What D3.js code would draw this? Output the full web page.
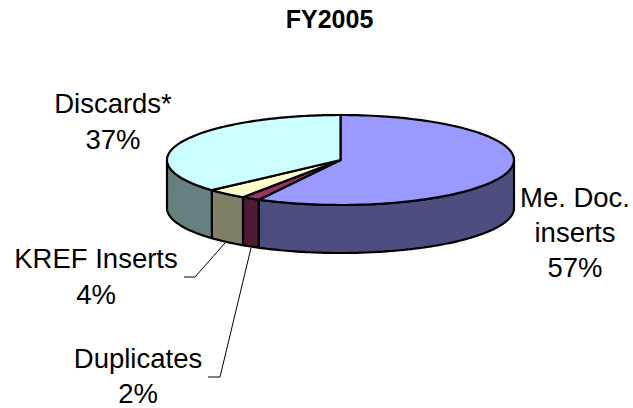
<!DOCTYPE html>
<html><head><meta charset="utf-8">
<script src="https://cdn.jsdelivr.net/npm/d3@7"></script>
<style>html,body{margin:0;padding:0;background:#fff}svg{display:block}text{font-family:"Liberation Sans",Arial,sans-serif;fill:#000}</style>
</head><body><svg id="c" width="633" height="408"></svg>
<script>
const title = "FY2005";
const categories = ["Me. Doc. inserts", "Duplicates", "KREF Inserts", "Discards*"];
const values = [57.8, 1.7, 3.8, 36.7];
const percentLabels = ["57%", "2%", "4%", "37%"];
const topColors = ["#9999FF", "#993366", "#FFFFCC", "#CCFFFF"];
const sideColors = ["#4D4D80", "#4D1A33", "#808066", "#668080"];
const labelLines = [["Me. Doc.", "inserts", "57%"], ["Duplicates", "2%"], ["KREF Inserts", "4%"], ["Discards*", "37%"]];
const labelAnchors = [[575, 207], [138, 368], [96, 268], [113, 113]];
const leaders = [null, [[251, 248], [220, 377], [208, 377]], [[225, 243], [195, 277], [184, 277]], null];

const cx = 340.5, cy = 160, rx = 173.5, ry = 45, depth = 48;
const svg = d3.select("#c");
const sx = d3.scaleLinear().domain([-1, 1]).range([cx - rx, cx + rx]);
const sy = d3.scaleLinear().domain([-1, 1]).range([cy - ry, cy + ry]);
const pt = (a, dz = 0) => [sx(Math.sin(a)), sy(-Math.cos(a)) + dz];
const arcs = d3.pie().sort(null)(values);
const arcPts = (a0, a1, dz) => d3.range(0, 121).map(i => pt(a0 + (a1 - a0) * i / 120, dz));
const line = d3.line();

svg.append("text").attr("x", 329.5).attr("y", 28).attr("text-anchor", "middle")
  .attr("font-size", 25).attr("font-weight", "bold").text(title);

// Side walls: only the part of each slice facing the viewer
const front0 = Math.PI / 2, front1 = Math.PI * 1.5;
svg.append("g").selectAll("path")
  .data(arcs.filter(d => d.endAngle > front0 && d.startAngle < front1))
  .join("path")
  .attr("d", d => {
    const a0 = Math.max(d.startAngle, front0), a1 = Math.min(d.endAngle, front1);
    return line([...arcPts(a0, a1, 0), ...arcPts(a1, a0, depth)]) + "Z";
  })
  .attr("fill", d => sideColors[d.index])
  .attr("stroke", "#000").attr("stroke-width", 2.2).attr("stroke-linejoin", "round");

// Top faces
svg.append("g").selectAll("path").data(arcs).join("path")
  .attr("d", d => line([[cx, cy], ...arcPts(d.startAngle, d.endAngle, 0)]) + "Z")
  .attr("fill", d => topColors[d.index])
  .attr("stroke", "#000").attr("stroke-width", 2.2).attr("stroke-linejoin", "round");

// Leader lines
svg.append("g").selectAll("path").data(leaders.filter(Boolean)).join("path")
  .attr("d", d => line(d)).attr("fill", "none").attr("stroke", "#000").attr("stroke-width", 1);

// Labels
const lineSteps = [35, 35, 36, 36];
labelLines.forEach((lines, i) => {
  const t = svg.append("text").attr("text-anchor", "middle").attr("font-size", 27.5);
  lines.forEach((s, j) => t.append("tspan").attr("x", labelAnchors[i][0])
    .attr("y", labelAnchors[i][1] + j * lineSteps[i]).text(s));
});
</script></body></html>
